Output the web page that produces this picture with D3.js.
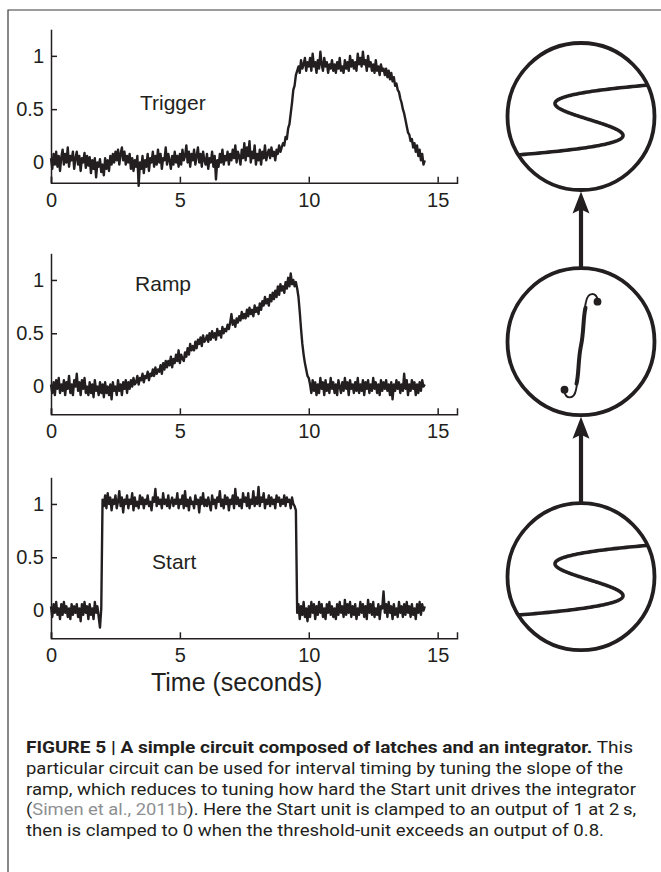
<!DOCTYPE html>
<html><head><meta charset="utf-8">
<script src="https://cdn.jsdelivr.net/npm/d3@7"></script>
<style>
html,body{margin:0;padding:0;background:#fff;}
svg{display:block;font-family:"Liberation Sans",Arial,Helvetica,sans-serif;}
</style>
</head><body>
<svg id="c" width="661" height="872"></svg>
<script>
// ---------- data ----------
const sampleStep = 0.05;              // seconds between samples, starting at t = 0
const xTicks = [0, 5, 10, 15];
const xTickLabels = ["0", "5", "10", "15"];
const yTicks = [0, 0.5, 1];
const yTickLabels = ["0", "0.5", "1"];
const panelNames = ["Trigger", "Ramp", "Start"];
const xAxisTitle = "Time (seconds)";

const triggerValues = [
 0.04,-0.06,0.08,-0.02,0.10,-0.04,0.06,-0.08,0.05,0.12,
 -0.02,0.08,0.00,0.14,-0.04,0.06,0.02,0.10,-0.06,0.04,
 0.10,-0.02,0.06,-0.08,0.04,0.00,0.09,-0.05,0.06,-0.03,
 0.05,-0.10,0.02,-0.06,0.04,-0.14,0.00,-0.04,0.03,-0.09,
 -0.02,-0.12,0.04,-0.06,0.02,-0.08,0.06,-0.02,0.08,0.00,
 0.10,0.02,0.12,-0.02,0.08,0.14,0.02,0.10,-0.02,0.06,
 0.00,0.08,-0.06,0.04,-0.08,0.02,-0.04,0.06,-0.22,0.00,
 -0.06,0.06,-0.10,0.02,-0.04,0.08,-0.08,0.04,0.00,0.10,
 -0.04,0.06,-0.02,0.12,0.00,0.08,-0.06,0.04,0.02,0.14,
 -0.02,0.08,0.02,-0.06,0.06,-0.02,0.10,0.00,0.06,-0.04,
 0.08,-0.02,0.12,0.02,0.06,0.16,0.00,0.10,-0.04,0.08,
 0.02,0.12,-0.02,0.06,0.14,0.00,0.08,-0.04,0.10,0.02,
 -0.02,0.08,-0.06,0.04,0.00,0.10,-0.04,0.06,-0.16,0.02,
 -0.04,0.08,0.00,0.12,-0.02,0.06,0.02,0.10,-0.02,0.08,
 0.02,0.12,0.04,0.16,0.00,0.10,0.06,-0.02,0.12,0.04,
 0.18,0.02,0.14,0.06,0.20,0.00,0.10,0.04,0.16,-0.02,
 0.08,0.02,0.12,-0.02,0.10,0.04,0.16,0.02,0.08,0.12,
 0.04,0.14,0.06,0.10,0.02,0.12,0.08,0.16,0.10,0.14,
 0.18,0.16,0.24,0.22,0.32,0.36,0.46,0.56,0.68,0.72,
 0.82,0.86,0.90,0.84,0.96,0.88,0.92,0.98,0.86,0.94,
 0.90,0.98,0.86,1.02,0.90,0.94,0.84,0.96,0.88,1.04,
 0.92,0.86,0.98,0.90,0.94,0.84,0.92,0.88,0.96,0.86,
 0.92,0.84,0.94,0.88,0.98,0.86,0.90,0.84,0.96,0.88,
 0.94,0.86,1.00,0.90,0.96,0.88,0.94,0.86,1.02,0.92,
 0.98,0.90,1.04,0.92,0.96,0.86,1.00,0.90,0.94,0.86,
 0.92,0.84,0.96,0.86,0.90,0.82,0.92,0.86,0.88,0.82,
 0.88,0.80,0.86,0.78,0.84,0.76,0.80,0.72,0.74,0.68,
 0.66,0.60,0.56,0.50,0.46,0.40,0.34,0.28,0.26,0.20,
 0.22,0.14,0.18,0.10,0.16,0.06,0.12,0.02,0.08,-0.02,
 0.02
];
const rampValues = [
 0.02,-0.06,0.04,-0.08,0.06,-0.02,0.08,-0.06,0.02,-0.04,
 0.06,-0.08,0.04,-0.02,0.10,-0.06,0.02,-0.08,0.06,0.00,
 0.12,-0.04,0.04,-0.08,0.06,-0.02,0.08,-0.06,0.00,-0.08,
 0.04,-0.06,0.02,-0.10,0.06,-0.04,0.00,-0.08,0.04,-0.06,
 0.02,-0.10,0.04,-0.06,0.00,-0.08,0.02,-0.12,0.04,-0.04,
 0.00,-0.08,0.06,-0.04,0.02,-0.08,0.04,-0.02,0.06,-0.06,
 0.04,-0.02,0.06,0.00,0.08,0.02,0.04,0.10,0.02,0.08,
 0.06,0.12,0.04,0.10,0.08,0.14,0.06,0.12,0.10,0.16,
 0.10,0.18,0.12,0.16,0.14,0.20,0.12,0.22,0.16,0.24,
 0.18,0.24,0.20,0.28,0.18,0.26,0.22,0.30,0.24,0.34,
 0.22,0.30,0.26,0.24,0.32,0.28,0.36,0.30,0.40,0.34,
 0.38,0.34,0.42,0.36,0.44,0.40,0.46,0.38,0.48,0.42,
 0.44,0.48,0.42,0.50,0.44,0.52,0.46,0.50,0.44,0.54,
 0.48,0.52,0.46,0.56,0.50,0.54,0.52,0.58,0.54,0.60,
 0.68,0.58,0.62,0.56,0.64,0.60,0.66,0.62,0.70,0.64,
 0.68,0.64,0.72,0.66,0.74,0.68,0.72,0.66,0.76,0.70,
 0.74,0.68,0.78,0.72,0.80,0.76,0.84,0.78,0.82,0.76,
 0.86,0.80,0.88,0.82,0.90,0.84,0.94,0.86,0.96,0.90,
 0.94,0.88,0.98,0.92,1.02,0.94,1.06,0.96,1.00,0.94,
 0.98,0.92,0.84,0.70,0.54,0.40,0.30,0.22,0.16,0.10,
 0.08,0.02,-0.06,0.06,-0.04,0.04,-0.08,0.02,-0.06,0.08,
 -0.02,0.04,-0.08,0.06,-0.04,0.02,-0.06,0.08,-0.02,0.04,
 -0.06,0.02,-0.08,0.06,0.00,-0.06,0.04,-0.04,0.08,-0.02,
 0.04,-0.08,0.06,-0.02,0.02,-0.06,0.04,-0.04,0.08,-0.06,
 0.02,-0.04,0.06,-0.08,0.04,-0.02,0.06,-0.06,0.02,-0.04,
 0.08,-0.02,0.04,-0.06,0.02,-0.08,0.06,-0.04,0.04,-0.02,
 0.06,-0.04,0.02,-0.08,0.04,-0.12,0.02,-0.04,0.06,-0.02,
 0.04,-0.06,0.02,-0.04,0.12,-0.02,0.06,-0.08,0.02,-0.04,
 0.06,-0.02,0.04,-0.08,0.02,-0.06,0.04,-0.04,0.06,0.00,
 0.02
];
const startValues = [
 0.04,-0.06,0.06,-0.02,0.08,-0.04,0.02,-0.08,0.06,-0.04,
 0.08,-0.02,0.04,-0.06,0.02,-0.08,0.06,-0.04,0.04,-0.02,
 0.06,-0.06,0.02,-0.10,0.06,-0.04,0.08,-0.02,0.04,-0.08,
 0.06,-0.04,0.02,-0.08,0.08,-0.02,0.04,-0.06,-0.16,0.02,
 1.04,0.98,1.08,0.96,1.10,1.00,1.06,0.94,1.04,1.00,
 1.08,0.96,1.02,1.12,0.98,1.06,0.92,1.04,1.00,1.08,
 0.96,1.04,1.00,1.10,0.94,1.06,0.98,1.02,0.96,1.08,
 1.00,1.06,0.96,1.04,1.00,1.08,0.98,1.02,0.94,1.06,
 1.02,1.14,0.98,1.06,1.00,1.04,0.96,1.10,1.00,1.04,
 0.98,1.08,0.96,1.02,1.06,0.98,1.04,1.00,1.10,0.96,
 1.04,1.00,1.08,0.96,1.12,0.98,1.04,0.94,1.06,1.00,
 1.02,0.96,1.08,1.00,1.04,0.92,1.06,1.00,1.10,0.98,
 1.04,0.98,1.06,1.00,0.94,1.08,1.00,1.04,0.96,1.06,
 1.02,1.12,0.98,1.04,0.96,1.08,1.00,1.06,0.94,1.04,
 1.00,1.08,0.96,1.14,1.00,1.06,0.98,1.04,0.96,1.10,
 1.02,1.06,0.98,1.10,0.96,1.04,1.00,1.12,0.98,1.06,
 1.00,1.16,0.98,1.06,1.02,1.10,0.96,1.04,1.00,1.08,
 0.98,1.06,1.00,1.04,0.96,1.08,1.02,1.06,0.98,1.04,
 1.00,1.08,0.98,1.06,1.02,1.04,0.96,1.06,1.00,0.98,
 0.94,-0.02,0.06,-0.08,0.04,-0.04,0.08,-0.06,0.02,-0.10,
 0.04,-0.06,0.08,-0.02,0.06,-0.08,0.04,-0.04,0.08,-0.02,
 0.06,-0.06,0.02,-0.08,0.06,-0.02,0.08,-0.04,0.04,-0.06,
 0.02,-0.08,0.06,-0.04,0.08,-0.02,0.04,-0.06,0.10,-0.04,
 0.06,-0.02,0.08,-0.06,0.04,-0.04,0.06,-0.08,0.02,-0.04,
 0.08,-0.02,0.06,-0.06,0.04,-0.08,0.10,-0.02,0.06,-0.04,
 0.08,-0.06,0.02,-0.04,0.06,-0.08,0.04,0.02,0.18,-0.02,
 0.06,-0.06,0.08,-0.02,0.04,-0.08,0.06,-0.04,0.02,-0.06,
 0.08,-0.02,0.04,-0.06,0.06,-0.04,0.08,-0.02,0.04,-0.06,
 0.06,-0.04,0.02,-0.08,0.06,-0.02,0.08,-0.04,0.06,0.00,
 0.04
];
const panelSeries = [triggerValues, rampValues, startValues];

const captionLines = [
  [{t:"FIGURE 5 | A simple circuit composed of latches and an integrator.", b:true}, {t:" This"}],
  [{t:"particular circuit can be used for interval timing by tuning the slope of the"}],
  [{t:"ramp, which reduces to tuning how hard the Start unit drives the integrator"}],
  [{t:"("}, {t:"Simen et al., 2011b", g:true}, {t:"). Here the Start unit is clamped to an output of 1 at 2\u2009s,"}],
  [{t:"then is clamped to 0 when the threshold-unit exceeds an output of 0.8."}]
];

// ---------- layout ----------
const ink = "#231f20";
const svg = d3.select("#c");

// frame
svg.append("path").attr("d", "M8,872 V10 H661")
  .attr("fill", "none").attr("stroke", "#3a3a3a").attr("stroke-width", 1.2);

const x = d3.scaleLinear().domain([0, 15.75]).range([51, 457]);

const panelLayout = [
  {y0: 182.7, y1: 29.2, ymin: -0.19, lx: 3.45, ly: 0.49},
  {y0: 414.3, y1: 253.3, ymin: -0.26, lx: 3.26, ly: 0.90},
  {y0: 638.3, y1: 477.3, ymin: -0.26, lx: 3.92, ly: 0.39}
];

panelLayout.forEach((p, k) => {
  const y = d3.scaleLinear().domain([p.ymin, 1.25]).range([p.y0, p.y1]);
  const g = svg.append("g");

  const line = d3.line().x((d, i) => x(i * sampleStep)).y(d => y(d));
  g.append("path").datum(panelSeries[k])
    .attr("d", line).attr("fill", "none").attr("stroke", ink)
    .attr("stroke-width", 2.4).attr("stroke-linejoin", "round");

  const xa = g.append("g").attr("transform", `translate(0,${p.y0})`)
    .call(d3.axisBottom(x).tickValues(xTicks).tickFormat((d, i) => xTickLabels[i])
      .tickSizeInner(-6).tickSizeOuter(-6).tickPadding(10));
  const ya = g.append("g").attr("transform", `translate(${x(0)},0)`)
    .call(d3.axisLeft(y).tickValues(yTicks).tickFormat((d, i) => yTickLabels[i])
      .tickSizeInner(-6).tickSizeOuter(0).tickPadding(7));
  [xa, ya].forEach(a => {
    a.selectAll("path,line").attr("stroke", ink).attr("stroke-width", 1.5);
    a.selectAll("text").attr("fill", ink).style("font-size", "20px")
      .style("font-family", '"Liberation Sans",Arial,sans-serif');
  });

  g.append("text").attr("x", x(p.lx)).attr("y", y(p.ly))
    .attr("fill", ink).style("font-size", "21px").text(panelNames[k]);
});

svg.append("text").attr("x", x(7.2)).attr("y", 691).attr("text-anchor", "middle")
  .attr("fill", ink).style("font-size", "25px").text(xAxisTitle);

// ---------- circuit diagram ----------
const cx = 581, r = 73.5;
const centers = [116.5, 341.7, 576.7];
const defs = svg.append("defs");
centers.forEach((cy, i) => {
  defs.append("clipPath").attr("id", "clip" + i)
    .append("circle").attr("cx", cx).attr("cy", cy).attr("r", r);
});
centers.forEach(cy => {
  svg.append("circle").attr("cx", cx).attr("cy", cy).attr("r", r)
    .attr("fill", "none").attr("stroke", ink).attr("stroke-width", 3.8);
});

// S-shaped (latch) curves
[0, 2].forEach(i => {
  const cy = centers[i];
  const us = d3.range(-1.35, 1.3501, 0.01);
  const sLine = d3.line()
    .x(u => cx + 8 + 136 * u * u * u - 102 * u)
    .y(u => cy + 3 - 32 * u);
  svg.append("path").datum(us).attr("d", sLine)
    .attr("clip-path", `url(#clip${i})`)
    .attr("fill", "none").attr("stroke", ink).attr("stroke-width", 3.6)
    .attr("stroke-linecap", "round").attr("stroke-linejoin", "round");
});

// integral sign
{
  const cy = centers[1] + 4;
  const ig = svg.append("g").attr("transform", `translate(${cx},${cy})`);
  ig.append("path")
    .attr("d", "M-17,45 C-15,54 -7,54 -5,44 C-2,32 -3,14 0,0 C3,-14 2,-32 5,-44 C7,-54 15,-54 17,-45")
    .attr("fill", "none").attr("stroke", ink).attr("stroke-width", 1.9);
  ig.append("path")
    .attr("d", "M-4.5,38 C-2,28 -3,14 0,0 C3,-14 2,-28 4.5,-38")
    .attr("fill", "none").attr("stroke", ink).attr("stroke-width", 4)
    .attr("stroke-linecap", "round");
  ig.append("circle").attr("cx", -16.5).attr("cy", 44).attr("r", 3.9).attr("fill", ink);
  ig.append("circle").attr("cx", 16.5).attr("cy", -44).attr("r", 3.9).attr("fill", ink);
}

// arrows (from lower circle to the one above)
for (let i = 1; i < centers.length; i++) {
  const tipY = centers[i - 1] + r + 1.5;
  const baseY = centers[i] - r - 1;
  svg.append("line").attr("x1", cx).attr("x2", cx).attr("y1", baseY).attr("y2", tipY + 16)
    .attr("stroke", ink).attr("stroke-width", 4.2);
  svg.append("path")
    .attr("d", `M${cx},${tipY} L${cx + 8.5},${tipY + 22} L${cx},${tipY + 18} L${cx - 8.5},${tipY + 22} Z`)
    .attr("fill", ink);
}

// ---------- caption ----------
const capWidths = [607, 597, 610, 610, 578];
const capBase = 753, capStep = 20.8;
captionLines.forEach((parts, i) => {
  const t = svg.append("text").attr("x", 26).attr("y", capBase + i * capStep)
    .attr("fill", ink)
    .style("font-family", 'Roboto,"Liberation Sans",Arial,sans-serif')
    .style("font-size", "16px")
    .attr("textLength", capWidths[i]).attr("lengthAdjust", "spacingAndGlyphs");
  parts.forEach(p => {
    t.append("tspan").text(p.t)
      .attr("font-weight", p.b ? "bold" : null)
      .attr("fill", p.g ? "#8d8f92" : ink);
  });
});
</script>
</body></html>
